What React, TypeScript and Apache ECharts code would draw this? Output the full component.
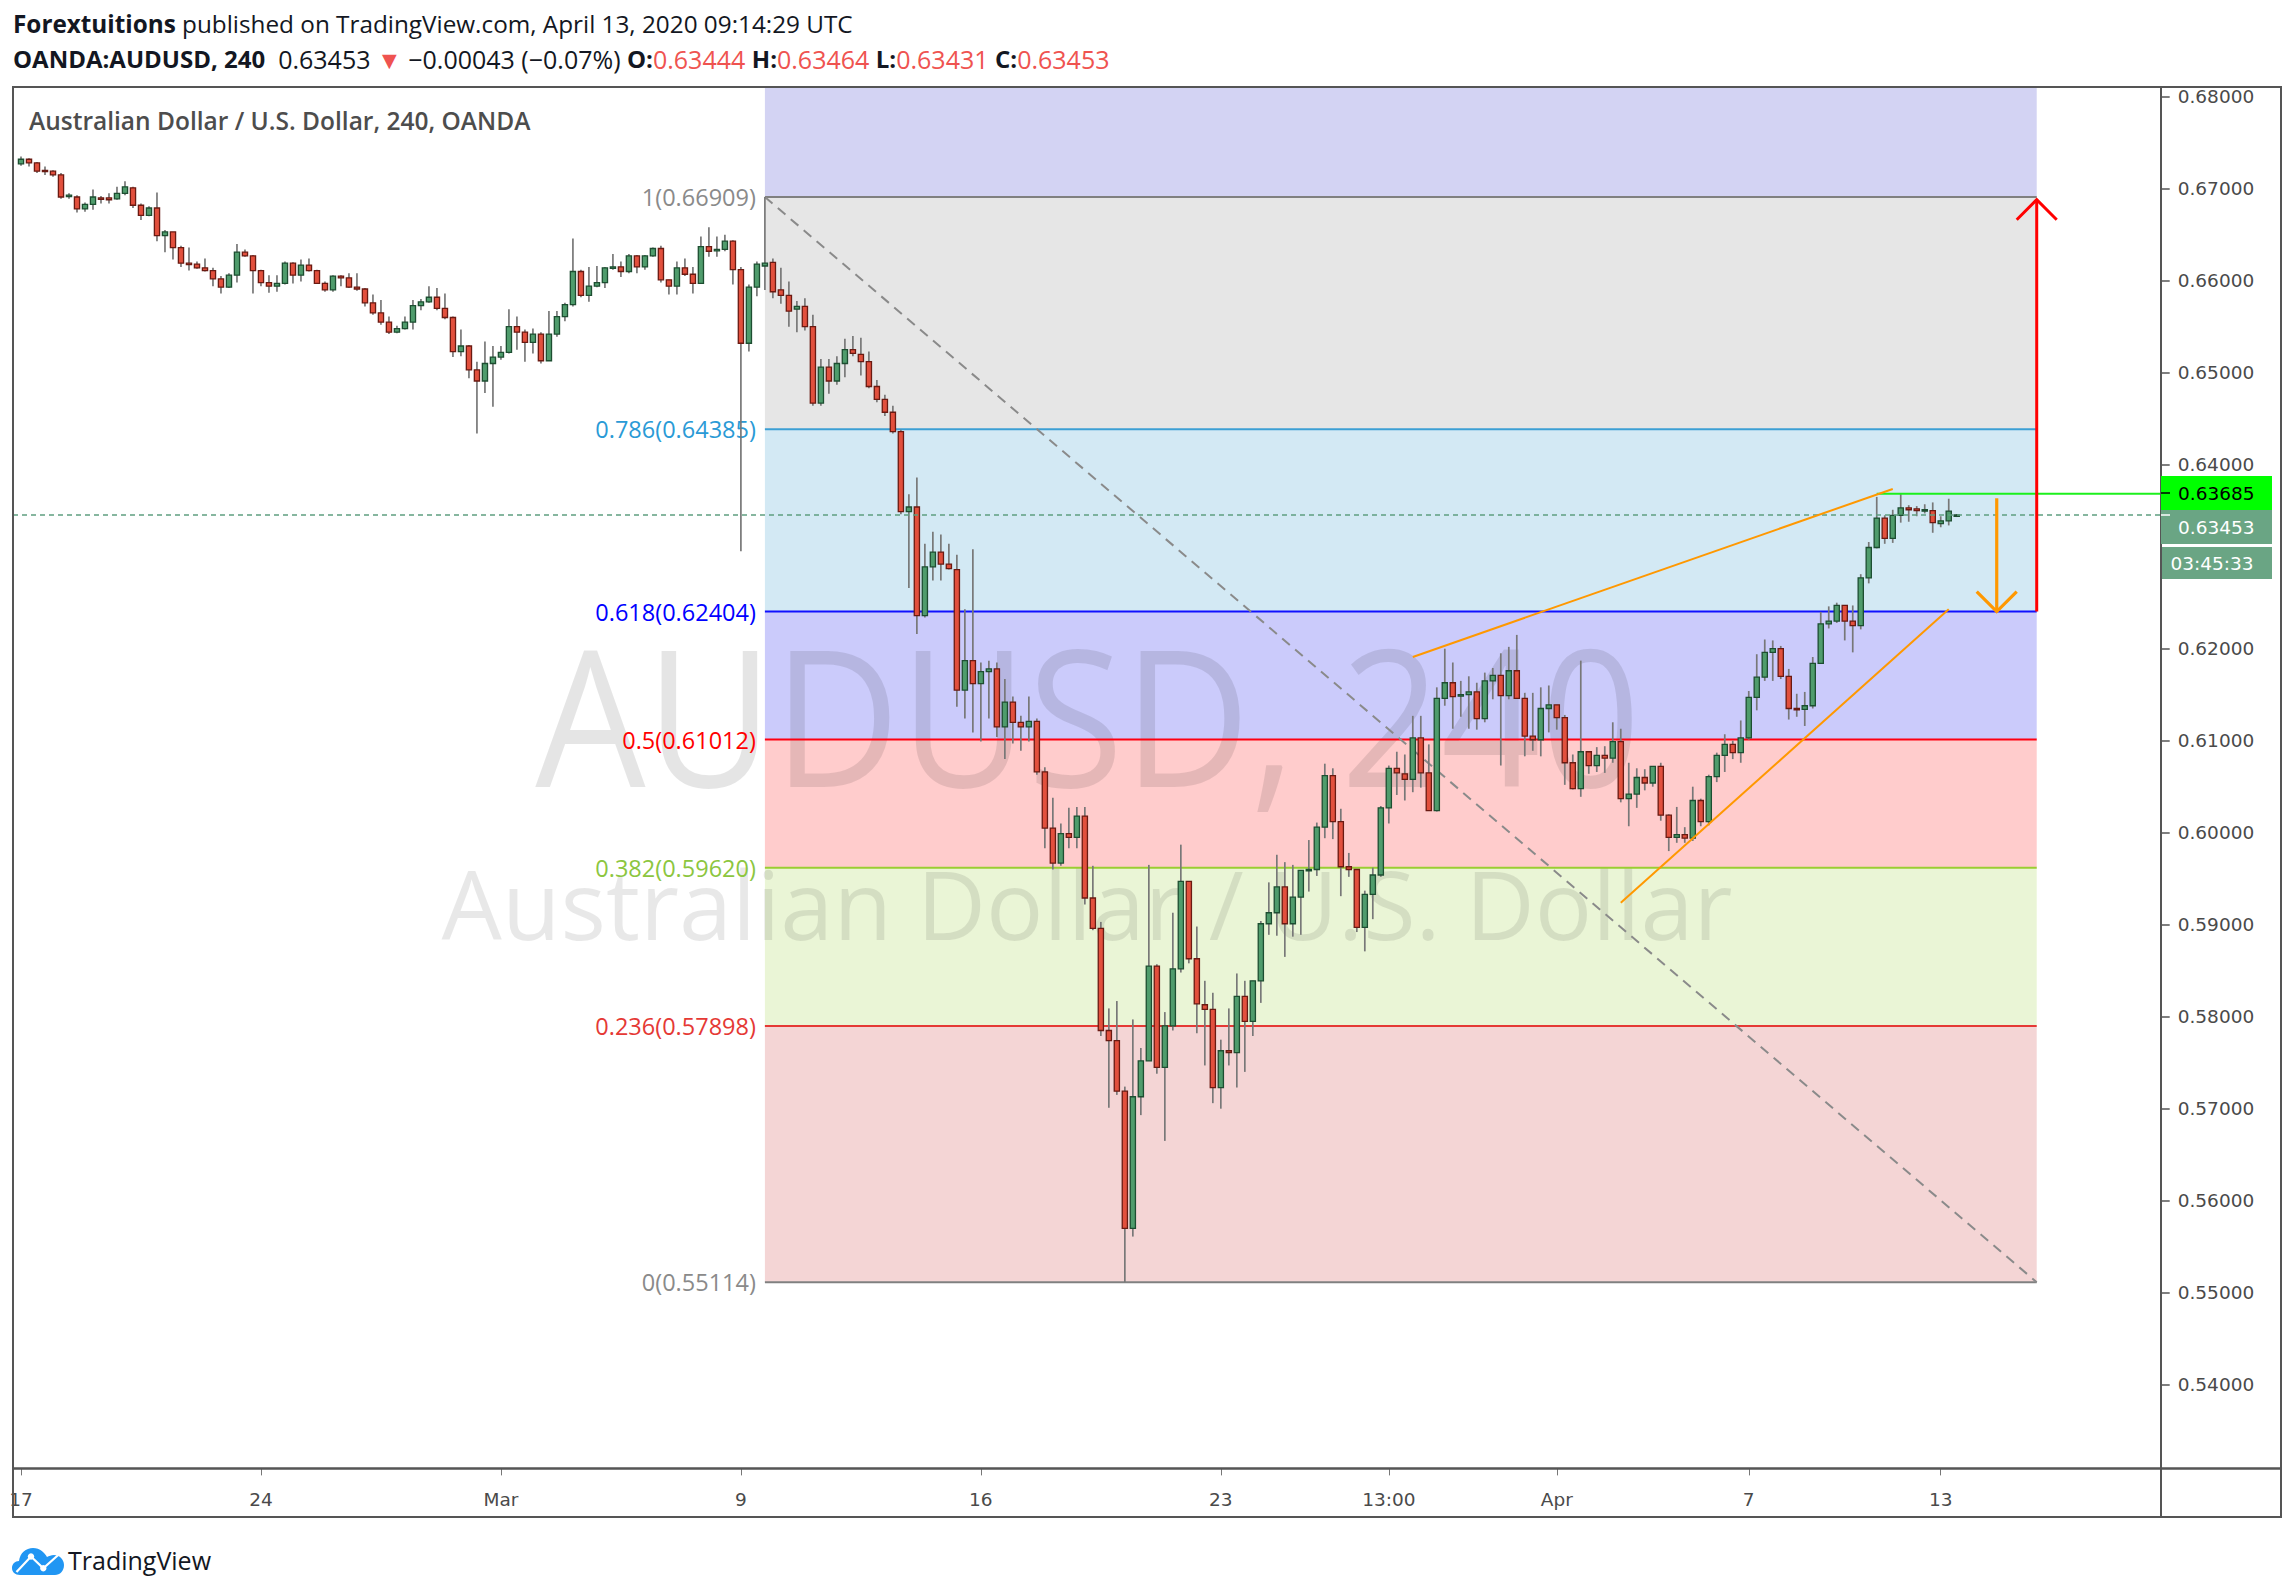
import React, { useEffect, useRef } from 'react';
import * as echarts from 'echarts';

// Each bar: [open, high, low, close]  (OANDA:AUDUSD, 240)
const weekFeb17 = [
  [0.6727, 0.6735, 0.6725, 0.6732], [0.6732, 0.6733, 0.6724, 0.6728], [0.6728, 0.6729, 0.6717, 0.6719],
  [0.6720, 0.6724, 0.6715, 0.6719], [0.6719, 0.6720, 0.6713, 0.6715], [0.6715, 0.6717, 0.6689, 0.6691],
  [0.6692, 0.6695, 0.6689, 0.6693], [0.6691, 0.6693, 0.6674, 0.6678], [0.6678, 0.6685, 0.6675, 0.6683],
  [0.6683, 0.6699, 0.6677, 0.6691], [0.6690, 0.6692, 0.6684, 0.6689], [0.6690, 0.6695, 0.6684, 0.6688],
  [0.6689, 0.6702, 0.6688, 0.6695], [0.6695, 0.6708, 0.6693, 0.6702], [0.6701, 0.6702, 0.6679, 0.6682],
  [0.6682, 0.6684, 0.6666, 0.6671], [0.6671, 0.6681, 0.6670, 0.6679], [0.6679, 0.6696, 0.6643, 0.6649],
  [0.6649, 0.6655, 0.6631, 0.6653], [0.6653, 0.6653, 0.6623, 0.6636], [0.6636, 0.6638, 0.6615, 0.6619],
  [0.6619, 0.6636, 0.6611, 0.6618], [0.6618, 0.6621, 0.6613, 0.6614], [0.6614, 0.6624, 0.6610, 0.6611],
  [0.6611, 0.6614, 0.6594, 0.6602], [0.6602, 0.6605, 0.6586, 0.6593], [0.6593, 0.6608, 0.6592, 0.6606],
  [0.6606, 0.6640, 0.6598, 0.6631], [0.6631, 0.6634, 0.6626, 0.6627], [0.6627, 0.6628, 0.6586, 0.6611],
];
const weekFeb24 = [
  [0.6611, 0.6612, 0.6594, 0.6598], [0.6598, 0.6606, 0.6587, 0.6594], [0.6594, 0.6606, 0.6588, 0.6597],
  [0.6597, 0.6621, 0.6596, 0.6619], [0.6619, 0.6620, 0.6597, 0.6606], [0.6606, 0.6623, 0.6599, 0.6617],
  [0.6617, 0.6624, 0.6610, 0.6611], [0.6611, 0.6612, 0.6597, 0.6597], [0.6597, 0.6599, 0.6588, 0.6590],
  [0.6590, 0.6606, 0.6588, 0.6605], [0.6605, 0.6606, 0.6594, 0.6603], [0.6603, 0.6608, 0.6592, 0.6593],
  [0.6593, 0.6608, 0.6589, 0.6591], [0.6591, 0.6592, 0.6572, 0.6576], [0.6576, 0.6585, 0.6563, 0.6565],
  [0.6565, 0.6579, 0.6552, 0.6555], [0.6555, 0.6561, 0.6542, 0.6544], [0.6544, 0.6551, 0.6543, 0.6548],
  [0.6548, 0.6561, 0.6547, 0.6555], [0.6555, 0.6579, 0.6547, 0.6573], [0.6573, 0.6580, 0.6568, 0.6577],
  [0.6577, 0.6594, 0.6576, 0.6582], [0.6582, 0.6592, 0.6568, 0.6570], [0.6570, 0.6586, 0.6558, 0.6560],
  [0.6560, 0.6561, 0.6517, 0.6523], [0.6523, 0.6547, 0.6518, 0.6529], [0.6529, 0.6530, 0.6494, 0.6503],
  [0.6503, 0.6512, 0.6434, 0.6491], [0.6491, 0.6534, 0.6478, 0.6510], [0.6510, 0.6529, 0.6463, 0.6517],
];
const weekMar02 = [
  [0.6517, 0.6529, 0.6514, 0.6522], [0.6522, 0.6569, 0.6521, 0.6550], [0.6550, 0.6561, 0.6525, 0.6544],
  [0.6544, 0.6547, 0.6512, 0.6533], [0.6533, 0.6548, 0.6521, 0.6542], [0.6542, 0.6544, 0.6510, 0.6513],
  [0.6513, 0.6567, 0.6513, 0.6542], [0.6542, 0.6567, 0.6539, 0.6561], [0.6561, 0.6576, 0.6556, 0.6574],
  [0.6574, 0.6646, 0.6572, 0.6610], [0.6610, 0.6612, 0.6582, 0.6584], [0.6584, 0.6615, 0.6577, 0.6594],
  [0.6594, 0.6616, 0.6593, 0.6598], [0.6598, 0.6615, 0.6592, 0.6614], [0.6614, 0.6629, 0.6612, 0.6615],
  [0.6615, 0.6621, 0.6604, 0.6610], [0.6610, 0.6629, 0.6608, 0.6627], [0.6627, 0.6628, 0.6608, 0.6615],
  [0.6615, 0.6628, 0.6612, 0.6627], [0.6627, 0.6636, 0.6626, 0.6635], [0.6635, 0.6638, 0.6598, 0.6601],
  [0.6601, 0.6601, 0.6585, 0.6594], [0.6594, 0.6621, 0.6585, 0.6614], [0.6614, 0.6624, 0.6605, 0.6607],
  [0.6607, 0.6615, 0.6586, 0.6597], [0.6597, 0.6648, 0.6597, 0.6637], [0.6637, 0.6658, 0.6626, 0.6632],
  [0.6633, 0.6648, 0.6626, 0.6634], [0.6634, 0.6650, 0.6632, 0.6643], [0.6643, 0.6644, 0.6596, 0.6612],
];
const weekMar09 = [
  [0.6612, 0.6615, 0.6306, 0.6532], [0.6532, 0.6596, 0.6523, 0.6593], [0.6593, 0.6621, 0.6583, 0.6618],
  [0.6616, 0.66909, 0.6590, 0.6619], [0.6620, 0.6624, 0.6581, 0.6588], [0.6590, 0.6614, 0.6575, 0.6584],
  [0.6584, 0.6599, 0.6550, 0.6567], [0.6569, 0.6578, 0.6544, 0.6572], [0.6572, 0.6581, 0.6546, 0.6550],
  [0.6550, 0.6563, 0.6464, 0.6467], [0.6467, 0.6515, 0.6464, 0.6506], [0.6506, 0.6515, 0.6477, 0.6491],
  [0.6491, 0.6518, 0.6487, 0.6510], [0.6510, 0.6537, 0.6495, 0.6525], [0.6525, 0.6540, 0.6518, 0.6521],
  [0.6520, 0.6538, 0.6497, 0.6512], [0.6512, 0.6523, 0.6483, 0.6485], [0.6485, 0.6492, 0.6468, 0.6471],
  [0.6471, 0.6476, 0.6453, 0.6457], [0.6457, 0.6464, 0.6434, 0.6436], [0.6436, 0.6438, 0.6346, 0.6349],
  [0.6349, 0.6368, 0.6266, 0.6354], [0.6354, 0.6386, 0.6216, 0.6236], [0.6236, 0.6314, 0.6234, 0.6289],
  [0.6289, 0.6327, 0.6274, 0.6305], [0.6305, 0.6324, 0.6274, 0.6292], [0.6292, 0.6314, 0.6286, 0.6287],
  [0.6286, 0.6302, 0.6137, 0.6155], [0.6155, 0.6243, 0.6124, 0.6187], [0.6187, 0.6308, 0.6109, 0.6162],
];
const weekMar16 = [
  [0.6162, 0.6185, 0.6099, 0.6175], [0.6175, 0.6187, 0.6124, 0.6178], [0.6178, 0.6185, 0.6104, 0.6115],
  [0.6115, 0.6167, 0.6080, 0.6142], [0.6142, 0.6148, 0.6097, 0.6120], [0.6120, 0.6127, 0.6089, 0.6115],
  [0.6115, 0.6148, 0.6099, 0.6121], [0.6121, 0.6124, 0.6063, 0.6066], [0.6066, 0.6071, 0.5983, 0.6005],
  [0.6005, 0.6038, 0.5960, 0.5967], [0.5967, 0.6010, 0.5964, 0.5999], [0.5999, 0.6027, 0.5983, 0.5995],
  [0.5995, 0.6028, 0.5983, 0.6018], [0.6018, 0.6028, 0.5922, 0.5929], [0.5929, 0.5964, 0.5894, 0.5896],
  [0.5896, 0.5903, 0.5779, 0.5785], [0.5785, 0.5809, 0.5701, 0.5774], [0.5774, 0.5817, 0.5715, 0.5719],
  [0.5719, 0.5724, 0.55114, 0.5570], [0.5570, 0.5797, 0.5561, 0.5713], [0.5713, 0.5766, 0.5693, 0.5752],
  [0.5752, 0.5965, 0.5752, 0.5855], [0.5855, 0.5857, 0.5738, 0.5745], [0.5745, 0.5805, 0.5665, 0.5790],
  [0.5790, 0.5913, 0.5785, 0.5852], [0.5852, 0.5987, 0.5848, 0.5947], [0.5947, 0.5947, 0.5858, 0.5863],
  [0.5863, 0.5898, 0.5782, 0.5814], [0.5813, 0.5839, 0.5747, 0.5808], [0.5808, 0.5826, 0.5706, 0.5723],
];
const weekMar23 = [
  [0.5723, 0.5775, 0.5700, 0.5763], [0.5763, 0.5809, 0.5747, 0.5761], [0.5761, 0.5847, 0.5723, 0.5822],
  [0.5822, 0.5839, 0.5740, 0.5795], [0.5795, 0.5839, 0.5779, 0.5839], [0.5839, 0.5904, 0.5815, 0.5901],
  [0.5901, 0.5946, 0.5889, 0.5913], [0.5913, 0.5976, 0.5888, 0.5941], [0.5941, 0.5968, 0.5865, 0.5901],
  [0.5901, 0.5965, 0.5887, 0.5930], [0.5930, 0.5959, 0.5889, 0.5959], [0.5959, 0.5992, 0.5936, 0.5960],
  [0.5960, 0.6011, 0.5953, 0.6006], [0.6006, 0.6075, 0.5994, 0.6062], [0.6062, 0.6070, 0.5993, 0.6012],
  [0.6012, 0.6026, 0.5931, 0.5963], [0.5963, 0.5978, 0.5952, 0.5960], [0.5960, 0.5960, 0.5892, 0.5897],
  [0.5897, 0.5937, 0.5871, 0.5933], [0.5933, 0.5962, 0.5906, 0.5954], [0.5954, 0.6029, 0.5952, 0.6027],
  [0.6027, 0.6073, 0.6010, 0.6070], [0.6070, 0.6088, 0.6041, 0.6065], [0.6064, 0.6085, 0.6035, 0.6058],
  [0.6058, 0.6127, 0.6044, 0.6103], [0.6103, 0.6127, 0.6049, 0.6065], [0.6065, 0.6096, 0.6024, 0.6024],
  [0.6024, 0.6158, 0.6023, 0.6146], [0.6146, 0.6200, 0.6138, 0.6163], [0.6163, 0.6185, 0.6113, 0.6148],
];
const weekMar30 = [
  [0.6149, 0.6165, 0.6126, 0.6150], [0.6150, 0.6170, 0.6113, 0.6153], [0.6153, 0.6163, 0.6112, 0.6124],
  [0.6124, 0.6174, 0.6120, 0.6165], [0.6165, 0.6179, 0.6145, 0.6171], [0.6171, 0.6195, 0.6073, 0.6149],
  [0.6149, 0.6202, 0.6145, 0.6176], [0.6176, 0.6215, 0.6146, 0.6146], [0.6146, 0.6152, 0.6083, 0.6105],
  [0.6105, 0.6152, 0.6089, 0.6101], [0.6101, 0.6158, 0.6083, 0.6135], [0.6135, 0.6160, 0.6109, 0.6139],
  [0.6139, 0.6139, 0.6112, 0.6125], [0.6125, 0.6128, 0.6052, 0.6076], [0.6076, 0.6085, 0.6047, 0.6048],
  [0.6048, 0.6187, 0.6039, 0.6088], [0.6088, 0.6088, 0.6064, 0.6073], [0.6073, 0.6093, 0.6066, 0.6084],
  [0.6084, 0.6094, 0.6065, 0.6081], [0.6081, 0.6120, 0.6076, 0.6099], [0.6099, 0.6113, 0.6033, 0.6037],
  [0.6037, 0.6076, 0.6007, 0.6042], [0.6042, 0.6070, 0.6027, 0.6060], [0.6060, 0.6069, 0.6046, 0.6054],
  [0.6054, 0.6072, 0.6050, 0.6072], [0.6072, 0.6076, 0.6013, 0.6019], [0.6019, 0.6020, 0.5980, 0.5995],
  [0.5995, 0.6028, 0.5989, 0.5998], [0.5998, 0.6006, 0.5989, 0.5994], [0.5994, 0.6050, 0.5991, 0.6035],
];
const weekApr06 = [
  [0.6035, 0.6037, 0.6007, 0.6012], [0.6012, 0.6063, 0.6008, 0.6061], [0.6061, 0.6087, 0.6055, 0.6084],
  [0.6084, 0.6107, 0.6066, 0.6096], [0.6096, 0.6100, 0.6080, 0.6087], [0.6087, 0.6122, 0.6076, 0.6103],
  [0.6103, 0.6154, 0.6101, 0.6147], [0.6147, 0.6194, 0.6133, 0.6169], [0.6169, 0.6210, 0.6165, 0.6196],
  [0.6196, 0.6209, 0.6165, 0.6200], [0.6200, 0.6203, 0.6167, 0.6170], [0.6170, 0.6178, 0.6123, 0.6135],
  [0.6135, 0.6151, 0.6126, 0.6134], [0.6134, 0.6153, 0.6116, 0.6138], [0.6138, 0.6191, 0.6135, 0.6184],
  [0.6184, 0.6240, 0.6184, 0.6227], [0.6227, 0.6246, 0.6222, 0.6230], [0.6230, 0.6250, 0.6228, 0.6247],
  [0.6247, 0.6247, 0.6209, 0.6230], [0.6230, 0.6247, 0.6196, 0.6225], [0.6225, 0.6281, 0.6221, 0.6277],
  [0.6277, 0.6316, 0.6271, 0.6310], [0.6310, 0.6365, 0.6309, 0.6342], [0.6342, 0.6345, 0.6314, 0.6320],
  [0.6320, 0.6351, 0.6315, 0.6345], [0.6345, 0.63685, 0.6337, 0.6353], [0.6353, 0.6356, 0.6338, 0.6351],
  [0.6352, 0.6355, 0.6344, 0.6350], [0.6350, 0.6357, 0.6347, 0.6351], [0.6350, 0.6359, 0.6326, 0.6337],
];
const weekApr13 = [
  [0.6336, 0.6344, 0.6332, 0.6339], [0.6339, 0.6363, 0.6334, 0.63496], [0.63444, 0.63464, 0.63431, 0.63453],
];

const candles = [
  ...weekFeb17, ...weekFeb24, ...weekMar02, ...weekMar09, ...weekMar16,
  ...weekMar23, ...weekMar30, ...weekApr06, ...weekApr13,
];

// x axis (one slot per 4h bar, plus empty slots to the right)
const slotCount = 268;
const xLabelIndex = [0, 30, 60, 90, 120, 150, 171, 192, 216, 240];
const xLabelText = ['17', '24', 'Mar', '9', '16', '23', '13:00', 'Apr', '7', '13'];

// price axis
const priceMin = 0.5309;
const priceMax = 0.681;
const priceStep = 0.01;
const coveredTickValues = [0.63]; // hidden under the countdown label

// Fibonacci retracement
const fibRatios = ['1', '0.786', '0.618', '0.5', '0.382', '0.236', '0'];
const fibPrices = [0.66909, 0.64385, 0.62404, 0.61012, 0.5962, 0.57898, 0.55114];
const fibStartIndex = 93;
const fibEndIndex = 252;

// other drawings
const upperTrend = [[174, 0.6191], [234, 0.63736]];
const lowerTrend = [[200, 0.59238], [241, 0.62428]];
const resistance = { index: 232, price: 0.63685 };
const lastPrice = 0.63453;
const downArrow = { index: 247, from: 0.63635, to: 0.62404 };
const upArrow = { index: 252, from: 0.62404, to: 0.6688 };

// styles
const zoneColors = ['#d3d3f3', '#e6e6e6', '#d3e9f4', '#cbcbfb', '#ffcccc', '#eaf5d6', '#f4d5d5'];
const fibLineColors = ['#808080', '#3c9fd4', '#1010ff', '#ff0010', '#9acd32', '#e53935', '#808080'];
const fibLabelColors = ['#8a8a8a', '#2a9ad6', '#0000ff', '#ff0000', '#8cc63f', '#e53935', '#8a8a8a'];
const FONT = '"Open Sans", "Noto Sans", sans-serif';
const AXIS_FONT = '"DejaVu Sans", Verdana, sans-serif';

const cloudPath =
  'M8 30 C3 30 0 27 0 23 C0 19 3 16 7 16 C8 8 14 3 21 3 C28 3 33 8 35 12 C37 11 39 10 42 10 C47 10 52 14 52 20 C52 26 48 30 43 30 Z';
echarts.graphic.registerShape('tvCloud', echarts.graphic.extendPath(cloudPath, {}));

function buildOption() {
  const labelAt = new Map(xLabelIndex.map((idx, k) => [idx, xLabelText[k]]));
  const categories = Array.from({ length: slotCount }, (_, i) => String(i));

  const zoneBounds = [priceMax, ...fibPrices];
  const zoneData = zoneColors.map((_, k) => [fibStartIndex, fibEndIndex, zoneBounds[k], zoneBounds[k + 1], k]);

  const red = '#ef5350';
  const rich1 = {
    b: { fontFamily: FONT, fontSize: 24.3, fontWeight: 'bold', fill: '#131722' },
    n: { fontFamily: FONT, fontSize: 24.3, fill: '#131722' },
  };
  const rich2 = {
    b: { fontFamily: FONT, fontSize: 24, fontWeight: 'bold', fill: '#131722' },
    n: { fontFamily: FONT, fontSize: 25, fill: '#131722' },
    r: { fontFamily: FONT, fontSize: 25, fill: red },
  };

  return {
    animation: false,
    backgroundColor: '#ffffff',
    grid: { left: 17, right: 133.3, top: 87.5, bottom: 127.6, containLabel: false },
    xAxis: {
      type: 'category',
      data: categories,
      boundaryGap: true,
      axisLine: { show: false },
      axisTick: {
        show: true,
        alignWithLabel: true,
        length: 7,
        interval: (i: number) => labelAt.has(i),
        lineStyle: { color: '#777', width: 1 },
      },
      axisLabel: {
        interval: (i: number) => labelAt.has(i),
        formatter: (_v: string, i: number) => labelAt.get(i) ?? '',
        margin: 22,
        fontFamily: AXIS_FONT,
        fontSize: 18.5,
        color: '#4a4a4a',
      },
      splitLine: { show: false },
    },
    yAxis: {
      type: 'value',
      position: 'right',
      min: priceMin,
      max: priceMax,
      minInterval: priceStep,
      maxInterval: priceStep,
      splitNumber: 15,
      axisLine: { show: false },
      axisTick: { show: true, length: 9, lineStyle: { color: '#555', width: 1.5 } },
      axisLabel: {
        formatter: (v: number) => (coveredTickValues.some((t) => Math.abs(t - v) < 1e-6) ? '' : v.toFixed(5)),
        showMinLabel: false,
        showMaxLabel: false,
        margin: 17,
        fontFamily: AXIS_FONT,
        fontSize: 18.5,
        color: '#4a4a4a',
      },
      splitLine: { show: false },
    },
    series: [
      {
        type: 'custom',
        name: 'fibZones',
        z: 1,
        silent: true,
        encode: { x: [0, 1], y: [2, 3] },
        data: zoneData,
        renderItem: (_p: any, api: any) => {
          const a = api.coord([api.value(0), api.value(2)]);
          const b = api.coord([api.value(1), api.value(3)]);
          return {
            type: 'rect',
            shape: { x: a[0], y: a[1], width: b[0] - a[0], height: b[1] - a[1] },
            style: { fill: zoneColors[api.value(4)] },
          };
        },
      },
      {
        type: 'custom',
        name: 'fibLevels',
        z: 3,
        silent: true,
        encode: { x: [0, 1], y: 2 },
        data: fibPrices.map((p, k) => [fibStartIndex, fibEndIndex, p, k]),
        renderItem: (_p: any, api: any) => {
          const k = api.value(3);
          const a = api.coord([api.value(0), api.value(2)]);
          const b = api.coord([api.value(1), api.value(2)]);
          return {
            type: 'group',
            children: [
              { type: 'line', shape: { x1: a[0], y1: a[1], x2: b[0], y2: b[1] }, style: { stroke: fibLineColors[k], lineWidth: 2 } },
              {
                type: 'text',
                x: a[0] - 9,
                y: a[1],
                style: {
                  text: `${fibRatios[k]}(${fibPrices[k].toFixed(5)})`,
                  fill: fibLabelColors[k],
                  fontFamily: FONT,
                  fontSize: 23.5,
                  align: 'right',
                  verticalAlign: 'middle',
                },
              },
            ],
          };
        },
      },
      {
        type: 'custom',
        name: 'fibTrend',
        z: 3,
        silent: true,
        encode: { x: [0, 2], y: [1, 3] },
        data: [[fibStartIndex, fibPrices[0], fibEndIndex, fibPrices[fibPrices.length - 1]]],
        renderItem: (_p: any, api: any) => {
          const a = api.coord([api.value(0), api.value(1)]);
          const b = api.coord([api.value(2), api.value(3)]);
          return {
            type: 'line',
            shape: { x1: a[0], y1: a[1], x2: b[0], y2: b[1] },
            style: { stroke: '#8a8a8a', lineWidth: 2, lineDash: [10, 7] },
          };
        },
      },
      {
        type: 'custom',
        name: 'AUDUSD',
        z: 5,
        encode: { x: 0, y: [1, 2, 3, 4] },
        data: candles.map((c, i) => [i, c[0], c[1], c[2], c[3]]),
        renderItem: (_p: any, api: any) => {
          const i = api.value(0);
          const o = api.value(1), h = api.value(2), l = api.value(3), c = api.value(4);
          const pO = api.coord([i, o]);
          const pH = api.coord([i, h]);
          const pL = api.coord([i, l]);
          const pC = api.coord([i, c]);
          const x = pO[0];
          const up = c >= o;
          const top = Math.min(pO[1], pC[1]);
          const bot = Math.max(pO[1], pC[1]);
          return {
            type: 'group',
            children: [
              { type: 'line', shape: { x1: x, y1: pH[1], x2: x, y2: pL[1] }, style: { stroke: '#787878', lineWidth: 1.7 } },
              {
                type: 'rect',
                shape: { x: x - 2.6, y: top, width: 5.2, height: Math.max(bot - top, 1.4) },
                style: {
                  fill: up ? '#4f9c6c' : '#e2503d',
                  stroke: up ? '#1d4e31' : '#6a1a12',
                  lineWidth: 1.3,
                },
              },
            ],
          };
        },
      },
      {
        type: 'custom',
        name: 'drawings',
        z: 6,
        silent: true,
        encode: { x: 0, y: 1 },
        data: [[0, 0]],
        renderItem: (params: any, api: any) => {
          const cs = params.coordSys;
          const right = cs.x + cs.width;
          const u0 = api.coord(upperTrend[0]);
          const u1 = api.coord(upperTrend[1]);
          const l0 = api.coord(lowerTrend[0]);
          const l1 = api.coord(lowerTrend[1]);
          const r0 = api.coord([resistance.index, resistance.price]);
          const lp = api.coord([0, lastPrice]);
          const d0 = api.coord([downArrow.index, downArrow.from]);
          const d1 = api.coord([downArrow.index, downArrow.to]);
          const a0 = api.coord([upArrow.index, upArrow.from]);
          const a1 = api.coord([upArrow.index, upArrow.to]);
          const orange = '#ff9800';
          return {
            type: 'group',
            children: [
              { type: 'line', shape: { x1: cs.x - 4, y1: lp[1], x2: right, y2: lp[1] }, style: { stroke: '#5f9f80', lineWidth: 1.6, lineDash: [5, 4] } },
              { type: 'line', shape: { x1: r0[0], y1: r0[1], x2: right, y2: r0[1] }, style: { stroke: '#1cf01c', lineWidth: 2 } },
              { type: 'line', shape: { x1: u0[0], y1: u0[1], x2: u1[0], y2: u1[1] }, style: { stroke: orange, lineWidth: 2 } },
              { type: 'line', shape: { x1: l0[0], y1: l0[1], x2: l1[0], y2: l1[1] }, style: { stroke: orange, lineWidth: 2 } },
              { type: 'line', shape: { x1: d0[0], y1: d0[1], x2: d1[0], y2: d1[1] }, style: { stroke: orange, lineWidth: 3.2 } },
              {
                type: 'polyline',
                shape: { points: [[d1[0] - 20, d1[1] - 20], [d1[0], d1[1]], [d1[0] + 20, d1[1] - 20]] },
                style: { stroke: orange, lineWidth: 3.2, fill: null },
              },
              { type: 'line', shape: { x1: a0[0], y1: a0[1], x2: a1[0], y2: a1[1] }, style: { stroke: '#ff0000', lineWidth: 3 } },
              {
                type: 'polyline',
                shape: { points: [[a1[0] - 20, a1[1] + 20], [a1[0], a1[1]], [a1[0] + 20, a1[1] + 20]] },
                style: { stroke: '#ff0000', lineWidth: 3, fill: null },
              },
            ],
          };
        },
      },
    ],
    graphic: [
      // watermark
      {
        type: 'text', z: 2, silent: true, x: 1088, y: 713, scaleX: 0.92,
        style: { text: 'AUDUSD, 240', fontFamily: FONT, fontSize: 190, fill: 'rgba(0,0,0,0.1)', align: 'center', verticalAlign: 'middle' },
      },
      {
        type: 'text', z: 2, silent: true, x: 1087, y: 903,
        style: { text: 'Australian Dollar / U.S. Dollar', fontFamily: FONT, fontSize: 95.5, fill: 'rgba(0,0,0,0.09)', align: 'center', verticalAlign: 'middle' },
      },
      // pane title
      {
        type: 'text', z: 10, silent: true, x: 29, y: 120,
        style: { text: 'Australian Dollar / U.S. Dollar, 240, OANDA', fontFamily: FONT, fontSize: 24.5, fontWeight: 600, fill: '#4d4d4d', verticalAlign: 'middle' },
      },
      // header
      {
        type: 'text', z: 10, silent: true, x: 13, y: 23.5,
        style: { text: '{b|Forextuitions}{n| published on TradingView.com, April 13, 2020 09:14:29 UTC}', rich: rich1, verticalAlign: 'middle', fontFamily: FONT, fontSize: 24.3 },
      },
      {
        type: 'text', z: 10, silent: true, x: 13, y: 58.5,
        style: {
          text: '{b|OANDA:AUDUSD, 240}{n|  0.63453 }{r|▼}{n| −0.00043 (−0.07%) }{b|O:}{r|0.63444}{n| }{b|H:}{r|0.63464}{n| }{b|L:}{r|0.63431}{n| }{b|C:}{r|0.63453}',
          rich: rich2, verticalAlign: 'middle', fontFamily: FONT, fontSize: 24,
        },
      },
      // frame
      { type: 'rect', z: 50, silent: true, shape: { x: 13, y: 87, width: 2268, height: 1430 }, style: { fill: null, stroke: '#555', lineWidth: 2 } },
      { type: 'line', z: 50, silent: true, shape: { x1: 13, y1: 1468.4, x2: 2281, y2: 1468.4 }, style: { stroke: '#555', lineWidth: 2.5 } },
      { type: 'line', z: 50, silent: true, shape: { x1: 2161, y1: 87, x2: 2161, y2: 1517 }, style: { stroke: '#555', lineWidth: 2 } },
      // price labels on the axis
      { type: 'rect', z: 100, silent: true, shape: { x: 2161, y: 476, width: 111, height: 34 }, style: { fill: '#00ff00' } },
      { type: 'line', z: 101, silent: true, shape: { x1: 2161, y1: 493, x2: 2170, y2: 493 }, style: { stroke: '#000', lineWidth: 1.5 } },
      {
        type: 'text', z: 101, silent: true, x: 2178, y: 493,
        style: { text: '0.63685', fontFamily: AXIS_FONT, fontSize: 18.5, fill: '#000', verticalAlign: 'middle' },
      },
      { type: 'rect', z: 100, silent: true, shape: { x: 2161, y: 510, width: 111, height: 34 }, style: { fill: '#6aa584' } },
      { type: 'line', z: 101, silent: true, shape: { x1: 2161, y1: 515, x2: 2170, y2: 515 }, style: { stroke: '#fff', lineWidth: 1.5 } },
      {
        type: 'text', z: 101, silent: true, x: 2178, y: 527,
        style: { text: '0.63453', fontFamily: AXIS_FONT, fontSize: 18.5, fill: '#fff', verticalAlign: 'middle' },
      },
      { type: 'rect', z: 100, silent: true, shape: { x: 2162, y: 547, width: 110, height: 32 }, style: { fill: '#6aa584' } },
      {
        type: 'text', z: 101, silent: true, x: 2212, y: 563,
        style: { text: '03:45:33', fontFamily: AXIS_FONT, fontSize: 18.5, fill: '#fff', align: 'center', verticalAlign: 'middle' },
      },
      // TradingView logo
      { type: 'tvCloud', z: 10, silent: true, x: 12, y: 1545, style: { fill: '#2196f3' } },
      {
        type: 'polyline', z: 11, silent: true,
        shape: { points: [[16.5, 1572], [31, 1556.5], [43.3, 1568.3], [61, 1552.5]] },
        style: { stroke: '#ffffff', lineWidth: 2.2, fill: null },
      },
      { type: 'circle', z: 12, silent: true, shape: { cx: 31, cy: 1556.5, r: 3.2 }, style: { fill: '#ffffff' } },
      { type: 'circle', z: 12, silent: true, shape: { cx: 43.3, cy: 1568.3, r: 3.2 }, style: { fill: '#ffffff' } },
      {
        type: 'text', z: 10, silent: true, x: 68, y: 1560,
        style: { text: 'TradingView', fontFamily: FONT, fontSize: 25, fill: '#131722', verticalAlign: 'middle' },
      },
    ],
  };
}

export default function App() {
  const ref = useRef<HTMLDivElement>(null);
  useEffect(() => {
    if (!ref.current) return;
    const chart = echarts.init(ref.current, null, { renderer: 'svg', width: 2294, height: 1596 });
    chart.setOption(buildOption() as any);
    return () => chart.dispose();
  }, []);
  return (
    <div
      ref={ref}
      style={{ position: 'fixed', left: 0, top: 0, width: 2294, height: 1596, background: '#ffffff' }}
    />
  );
}
